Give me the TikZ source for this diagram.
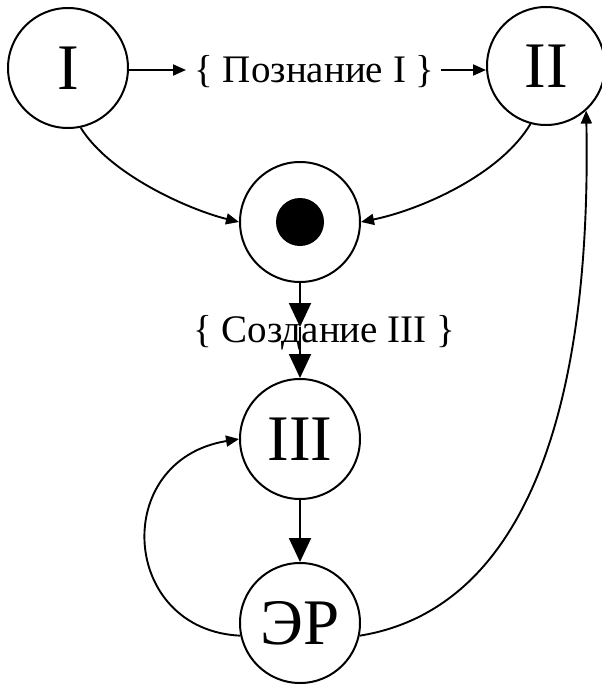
\documentclass[tikz,border=0pt]{standalone}
\usepackage{fontspec}
\setmainfont{Liberation Serif}
\usetikzlibrary{arrows.meta}
\begin{document}
\begin{tikzpicture}[x=1pt,y=-1pt,
  state/.style={circle,draw,line width=2pt,minimum size=120pt,inner sep=0pt,
    font=\fontsize{65}{70}\selectfont},
  lbl/.style={inner sep=0pt,font=\fontsize{39}{42}\selectfont},
  sarr/.style={line width=1.9pt,-{Triangle[length=13pt,width=11pt]}},
  barr/.style={line width=1.9pt,-{Triangle[length=24pt,width=22pt]}}]
\useasboundingbox (0,0) rectangle (602,685);
\node[state] (I) at (68,68) {I};
\node[state,minimum size=118pt] (II) at (546,66) {II};
\node[state] (dot) at (300,222) {};
\node[circle,fill=black,minimum size=48pt,inner sep=0pt] (blob) at (dot) {};
\node[state] (III) at (300,439) {III};
\node[state] (ER) at (300,623) {ЭР};
\node[lbl,anchor=base] (lab1) at (314.5,82) {\{ Познание I \}};
\node[lbl,anchor=base west] (lab2) at (193,342) {\{ Создание III \}};
\coordinate (a1) at (186,70);
\coordinate (a2) at (441,70);
\coordinate (m) at (300,327);
\draw[sarr] (I.east |- a1) -- (a1);
\draw[sarr] (a2) -- (a2 -| II.west);
\draw[sarr] (I.-78) .. controls (110,175) and (190,210) .. (dot.west);
\draw[sarr] (II.-105) .. controls (500,175) and (420,210) .. (dot.east);
\draw[barr] (dot.south) -- (m);
\draw[barr] (m) -- (III.north);
\draw[barr] (III.south) -- (ER.north);
\draw[sarr] (ER.192) .. controls (120,630) and (110,460) .. (III.west);
\draw[sarr] (ER.-12) .. controls (520,610) and (592,420) .. (II.-48);
\end{tikzpicture}
\end{document}
